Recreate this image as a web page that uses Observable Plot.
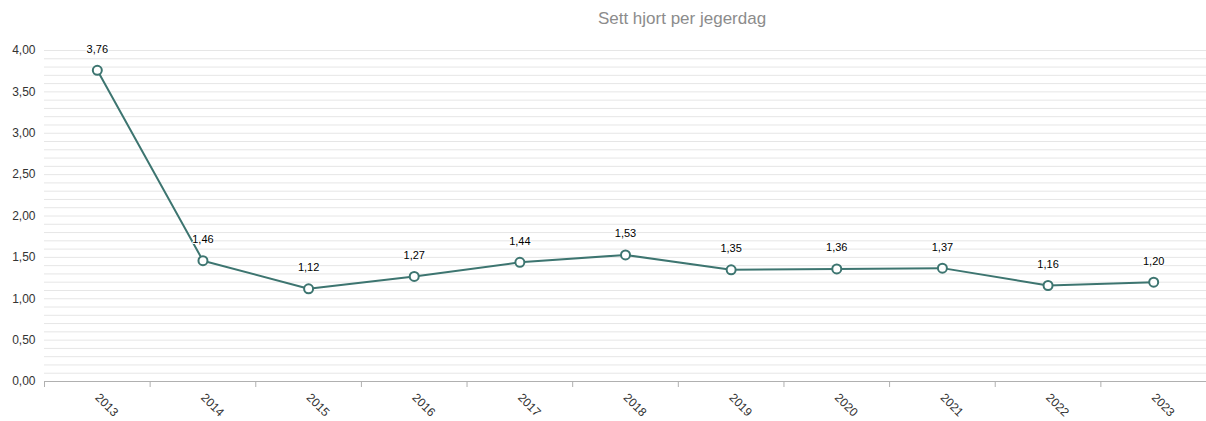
<!DOCTYPE html>
<html><head><meta charset="utf-8">
<script src="https://cdn.jsdelivr.net/npm/d3@7"></script>
<script src="https://cdn.jsdelivr.net/npm/@observablehq/plot@0.6"></script>
<style>
html,body{margin:0;padding:0;background:#fff;font-family:"Liberation Sans",Arial,sans-serif;overflow:hidden;}
#title{height:40px;width:1206px;position:relative;}
#title span{position:absolute;left:682px;top:9px;transform:translateX(-50%);font-size:17px;color:#8c8c8c;white-space:nowrap;}
#chart svg{display:block;}
</style></head>
<body>
<div id="title"><span>Sett hjort per jegerdag</span></div>
<div id="chart"></div>
<script>
const years = ["2013","2014","2015","2016","2017","2018","2019","2020","2021","2022","2023"];
const values = [3.76,1.46,1.12,1.27,1.44,1.53,1.35,1.36,1.37,1.16,1.20];
const yTicks = [0,0.5,1,1.5,2,2.5,3,3.5,4];
const yGrid = d3.range(0,41).map(i=>i/10);

const data = years.map((y,i)=>({year:y,value:values[i]}));
const fmt = d => d.toFixed(2).replace(".",",");
const W = 1206, ML = 44, MR = 0;
const step = (W-ML-MR)/years.length;
const col = "#3d7570";

const chart = Plot.plot({
  width: W, height: 381,
  marginTop: 10, marginBottom: 40, marginLeft: ML, marginRight: MR,
  style: {fontFamily: '"Liberation Sans",Arial,sans-serif', fontSize: "12px", color: "#333", background: "#fff"},
  x: {type: "point", domain: years, padding: 0.5, align: 0.5, round: false, label: null},
  y: {domain: [0,4], label: null},
  marks: [
    Plot.ruleY(yGrid, {y: d=>d, stroke: "#e6e6e6", strokeWidth: 1}),
    Plot.ruleY([0], {stroke: "#b0b0b0", strokeWidth: 1}),
    Plot.ruleX(years, {x: d=>d, y1: 0, y2: 0, dx: -step/2, insetBottom: -6, stroke: "#b0b0b0"}),
    Plot.axisY({ticks: yTicks, tickFormat: fmt, tickSize: 0, tickPadding: 9, fontSize: 12, fill: "#333", label: null}),
    Plot.axisX({tickSize: 0, tickRotate: 45, tickPadding: 14, fontSize: 12, fill: "#333", label: null}),
    Plot.line(data, {x: "year", y: "value", stroke: col, strokeWidth: 2}),
    Plot.dot(data, {x: "year", y: "value", r: 4.5, fill: "#fff", stroke: col, strokeWidth: 2}),
    Plot.text(data, {x: "year", y: "value", text: d=>fmt(d.value), dy: -21, fontSize: 11, fill: "#000", stroke: "#fff", strokeWidth: 2})
  ]
});
document.getElementById("chart").appendChild(chart);
</script>
</body></html>
